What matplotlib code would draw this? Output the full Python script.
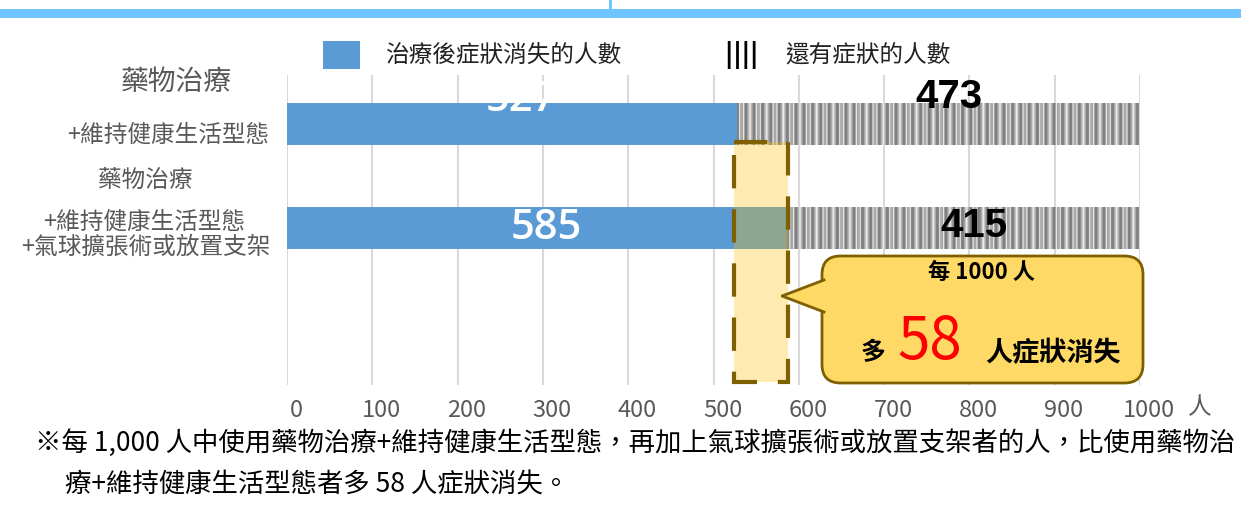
import matplotlib
matplotlib.use('Agg')
import matplotlib.pyplot as plt
from matplotlib.patches import Patch, Rectangle, FancyBboxPatch, Polygon
from matplotlib.lines import Line2D
from matplotlib.transforms import ScaledTranslation

plt.rcParams['font.family'] = ['Noto Sans CJK TC', 'DejaVu Sans']
plt.rcParams['hatch.linewidth'] = 2.0

# data
categories = ['藥物治療\n+維持健康生活型態', '藥物治療\n+維持健康生活型態\n+氣球擴張術或放置支架']
resolved = [527, 585]      # 治療後症狀消失的人數
remaining = [473, 415]     # 還有症狀的人數
ticks = [0, 100, 200, 300, 400, 500, 600, 700, 800, 900, 1000]
legend_labels = ['治療後症狀消失的人數', '還有症狀的人數']
note = ['※每 1,000 人中使用藥物治療+維持健康生活型態，再加上氣球擴張術或放置支架者的人，比使用藥物治',
        '療+維持健康生活型態者多 58 人症狀消失。']

W, H = 1241, 507
BLUE = '#5B9BD5'
BROWN = '#7F6000'
GREY = '#595959'


def fx(px):
    return px / W


def fy(py):
    return 1 - py / H


fig = plt.figure(figsize=(W / 100, H / 100), dpi=100)
ax = fig.add_axes([fx(287), fy(385), 853 / W, 310 / H])

ypos = [0, 1]
bh = 0.404
ax.barh(ypos, resolved, height=bh, color=BLUE, zorder=2)
ax.barh(ypos, remaining, left=resolved, height=bh, color='white',
        edgecolor='#D0D0D0', hatch='|||||', lw=0, zorder=2)
ax.barh(ypos, remaining, left=resolved, height=bh, color='none',
        edgecolor='#A8A8A8', hatch='|||', lw=0, zorder=2)
ax.barh(ypos, remaining, left=resolved, height=bh, color='none',
        edgecolor='#808080', hatch='||', lw=0, zorder=2)

ax.set_xlim(0, 1000)
ax.set_ylim(2.51, -0.471)
ax.set_xticks(ticks)
ax.set_xticklabels([str(t) for t in ticks], fontsize=17, color=GREY)
ax.tick_params(axis='x', length=0, pad=10)
ax.set_yticks([])
for s in ax.spines.values():
    s.set_visible(False)
ax.set_axisbelow(True)
ax.xaxis.grid(True, color='#D9D9D9', lw=1.5)
off = ScaledTranslation(9 / 100, 0, fig.dpi_scale_trans)
for lbl in ax.get_xticklabels():
    lbl.set_transform(lbl.get_transform() + off)
fig.text(fx(1200), fy(408), '人', fontsize=17, color=GREY, ha='center', va='center')

# bar value labels
ax.text(resolved[0] * 0.52, ypos[0] - 0.23, str(resolved[0]), color='white',
        fontsize=30, family='Open Sans', weight='semibold', ha='center', va='center', zorder=3)
ax.text(resolved[1] * 0.52, ypos[1], str(resolved[1]), color='white',
        fontsize=30, family='Open Sans', weight='semibold', ha='center', va='center', zorder=3)
ax.text(resolved[0] + remaining[0] / 2 + 13, ypos[0] - 0.26, str(remaining[0]),
        fontsize=29, family='Liberation Sans', weight='bold', ha='center', va='center', zorder=3)
ax.text(resolved[1] + remaining[1] / 2 + 13, ypos[1] - 0.02, str(remaining[1]),
        fontsize=29, family='Liberation Sans', weight='bold', ha='center', va='center', zorder=3)

# highlight of the difference
diff = resolved[1] - resolved[0]
ax.add_patch(Rectangle((resolved[0] - 3, 0.17), diff + 5, 2.31, facecolor=(1, 0.753, 0, 0.3),
                       edgecolor=BROWN, lw=3, linestyle=(0, (8, 5)), zorder=4))

# category labels
label_lines = [
    [(176, 82, 20), (168, 135, 17)],
    [(145, 180, 17), (144, 222, 17), (146, 247, 17)],
]
for cat, spec in zip(categories, label_lines):
    for line, (x, y, size) in zip(cat.split('\n'), spec):
        fig.text(fx(x), fy(y), line, fontsize=size, color=GREY, ha='center', va='center')

# legend
handles = [Patch(facecolor=BLUE, lw=0),
           Patch(facecolor='white', edgecolor='black', hatch='||', lw=0)]
fig.legend(handles, legend_labels, loc='center left', bbox_to_anchor=(fx(323), fy(55)),
           ncol=2, frameon=False, fontsize=17, handlelength=1.57, handleheight=1.4,
           handletextpad=1.06, columnspacing=4.3, borderpad=0, borderaxespad=0,
           labelcolor='#222222')

# callout
box = FancyBboxPatch((fx(822), fy(383)), fx(1143) - fx(822), fy(256) - fy(383),
                     boxstyle='round,pad=0,rounding_size=0.015', mutation_aspect=W / H,
                     transform=fig.transFigure, facecolor='#FFD966', edgecolor=BROWN, lw=2, zorder=5)
fig.add_artist(box)
tip = (fx(782), fy(296))
b1 = (fx(824), fy(280))
b2 = (fx(824), fy(312))
fig.add_artist(Polygon([tip, (fx(828), fy(280)), (fx(828), fy(312))], closed=True,
                       transform=fig.transFigure, facecolor='#FFD966', lw=0, zorder=6))
fig.add_artist(Line2D([b1[0], tip[0], b2[0]], [b1[1], tip[1], b2[1]], color=BROWN, lw=2,
                      transform=fig.transFigure, zorder=6))
fig.text(fx(981), fy(272), '每 1000 人', fontsize=16, weight='bold', ha='center', va='center', zorder=7)
fig.text(fx(873), fy(353), '多', fontsize=18, weight='bold', ha='center', va='center', zorder=7)
fig.text(fx(930), fy(342), str(diff), fontsize=42, color='#FF0000', ha='center', va='center', zorder=7)
fig.text(fx(1053), fy(353), '人症狀消失', fontsize=19.5, weight='bold', ha='center', va='center', zorder=7)

# top frame
fig.add_artist(Rectangle((0, fy(18)), 1, 9 / H, transform=fig.transFigure, color='#70C4FF', lw=0))
fig.add_artist(Rectangle((fx(609), fy(10)), 3 / W, 10 / H, transform=fig.transFigure, color='#70C4FF', lw=0))

# footnote
fig.text(fx(35), fy(443), note[0], fontsize=19, color='black', ha='left', va='center')
fig.text(fx(65), fy(485), note[1], fontsize=19, color='black', ha='left', va='center')

fig.savefig('out.png', dpi=100)
